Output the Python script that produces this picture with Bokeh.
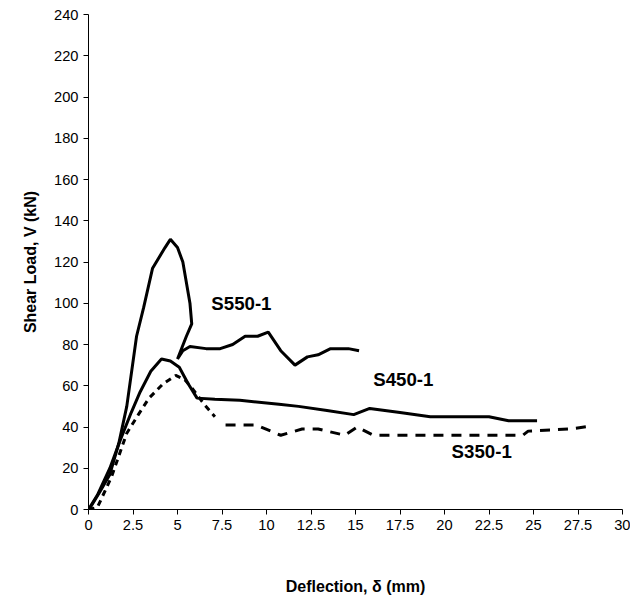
from bokeh.plotting import figure
from bokeh.models import Range1d, FixedTicker
from bokeh.core.properties import value
from bokeh.embed import file_html
from bokeh.resources import INLINE

# S550-1
s550_x = [0, 0.1, 0.6, 1.2, 1.7, 2.15, 2.7, 3.1, 3.6, 4.3, 4.6, 5.0, 5.3, 5.7, 5.8, 5.5, 5.0,
          5.3, 5.7, 6.6, 7.4, 8.1, 8.8, 9.5, 10.1, 10.8, 11.6, 12.3, 12.9, 13.6, 14.6, 15.2]
s550_y = [0, 1, 8, 17, 32, 50, 84, 98, 117, 127, 131, 127, 120, 100, 90, 84, 73,
          77, 79, 78, 78, 80, 84, 84, 86, 77, 70, 74, 75, 78, 78, 77]
# S450-1
s450_x = [0, 0.5, 1.2, 1.8, 2.4, 2.9, 3.5, 4.1, 4.6, 5.1, 5.6, 6.1, 7.1, 8.5, 10.7, 11.8,
          13.4, 14.9, 15.8, 17.5, 19.2, 22.5, 23.6, 25.2]
s450_y = [0, 7, 20, 34, 47, 57, 67, 73, 72, 69, 61, 54, 53.5, 53, 51, 50,
          48, 46, 49, 47, 45, 45, 43, 43]
# S350-1
s350_x = [0, 0.5, 1.3, 2.15, 2.8, 3.4, 4.2, 4.9, 5.4, 5.8, 6.5, 7.1]
s350_y = [0, 1, 16, 37, 46, 54, 61, 65, 63, 59, 51, 45]
s350b_x = [7.7, 9.4, 10.8, 12.0, 12.9, 14.4, 15.1, 16.0, 17.5, 20.0, 24.4, 24.7, 27.0, 28.3]
s350b_y = [41, 41, 36, 39, 39, 36, 40, 36, 36, 36, 36, 38, 39, 40.5]

labels = ["S550-1", "S450-1", "S350-1"]
label_x = [6.9, 16.0, 20.4]
label_y = [100, 63, 28]

x_ticks = [0, 2.5, 5, 7.5, 10, 12.5, 15, 17.5, 20, 22.5, 25, 27.5, 30]
y_ticks = list(range(0, 241, 20))

p = figure(width=630, height=597, output_backend="svg", toolbar_location=None,
           x_range=Range1d(0, 30), y_range=Range1d(0, 240), tools="",
           min_border_left=88, min_border_right=8, min_border_top=14, min_border_bottom=80)

p.line(s550_x, s550_y, line_color="black", line_width=3)
p.line(s450_x, s450_y, line_color="black", line_width=3)
p.line(s350_x, s350_y, line_color="black", line_width=3, line_dash="6 5")
p.line(s350b_x, s350b_y, line_color="black", line_width=3, line_dash="10 8")

p.text(label_x, label_y, text=labels, text_font_size="14pt", text_font_style="bold",
       text_color="black", text_baseline="middle", text_font=value("Liberation Sans"))

p.xaxis.ticker = FixedTicker(ticks=x_ticks)
p.xaxis.major_label_overrides = {t: (str(int(t)) if t == int(t) else str(t)) for t in x_ticks}
p.yaxis.ticker = FixedTicker(ticks=y_ticks)
for ax in (p.xaxis, p.yaxis):
    ax.minor_tick_line_color = None
    ax.major_tick_in = 0
    ax.major_tick_out = 5
    ax.major_label_text_font = "Liberation Sans"
    ax.major_label_text_font_size = "11pt"
    ax.major_label_text_color = "black"
    ax.axis_label_text_font = "Liberation Sans"
    ax.axis_label_text_font_size = "12pt"
    ax.axis_label_text_font_style = "bold"
    ax.axis_label_text_color = "black"
    ax.axis_line_color = "black"
p.xaxis.axis_label = "Deflection, δ (mm)"
p.xaxis.axis_label_standoff = 45
p.yaxis.axis_label = "Shear Load, V (kN)"
p.yaxis.axis_label_standoff = 12
p.grid.grid_line_color = None
p.outline_line_color = None

open("out.html", "w").write(file_html(p, INLINE))
